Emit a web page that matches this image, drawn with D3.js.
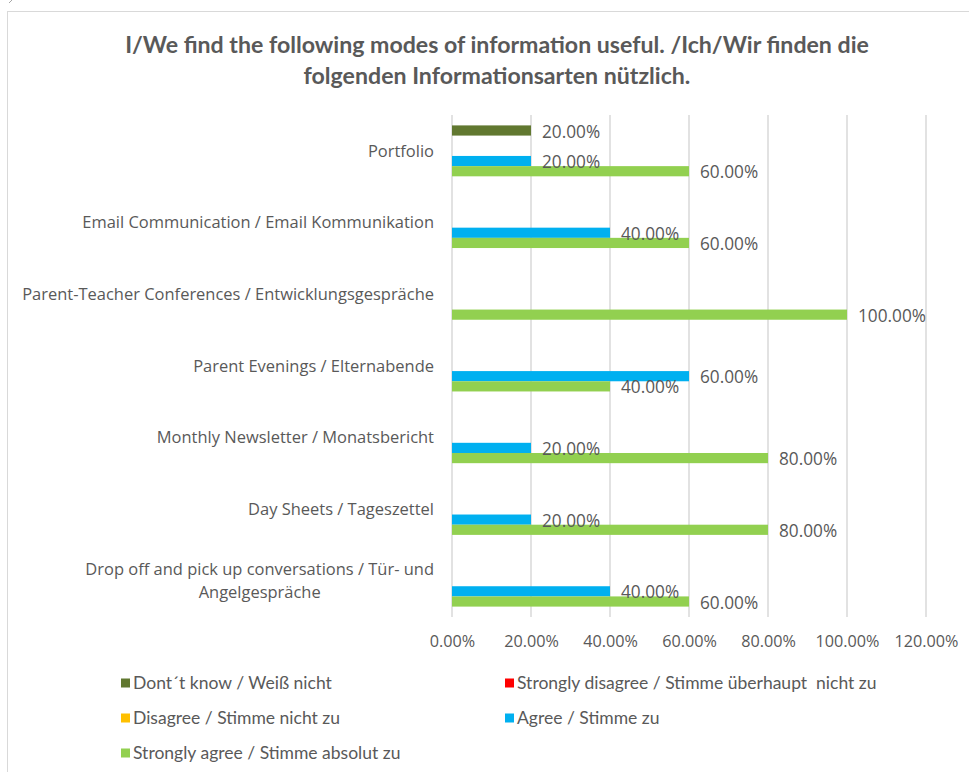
<html>
<head>
<script src="https://d3js.org/d3.v7.min.js"></script>
<style>
  body { margin: 0; background: #fff; }
  text { white-space: pre; }
</style>
</head>
<body>
<div id="chart"></div>
<script>
// categories, top to bottom
const categories = [
  "Portfolio",
  "Email Communication / Email Kommunikation",
  "Parent-Teacher Conferences / Entwicklungsgespräche",
  "Parent Evenings / Elternabende",
  "Monthly Newsletter / Monatsbericht",
  "Day Sheets / Tageszettel",
  "Drop off and pick up conversations / Tür- und Angelgespräche"
];

const seriesNames = [
  "Dont´t know / Weiß nicht",
  "Strongly disagree / Stimme überhaupt  nicht zu",
  "Disagree / Stimme nicht zu",
  "Agree / Stimme zu",
  "Strongly agree / Stimme absolut zu"
];
const seriesColors = ["#617830", "#FF0000", "#FFC000", "#00B0F0", "#92D050"];

const dontKnow          = [0.2, 0, 0, 0, 0, 0, 0];
const stronglyDisagree  = [0, 0, 0, 0, 0, 0, 0];
const disagree          = [0, 0, 0, 0, 0, 0, 0];
const agree             = [0.2, 0.4, 0, 0.6, 0.2, 0.2, 0.4];
const stronglyAgree     = [0.6, 0.6, 1.0, 0.4, 0.8, 0.8, 0.6];

const xTicks = [0, 0.2, 0.4, 0.6, 0.8, 1.0, 1.2];

const seriesValues = [dontKnow, stronglyDisagree, disagree, agree, stronglyAgree];

const w = 969, h = 772;
const plotLeft = 452, plotRight = 926, plotTop = 115, plotBottom = 617;
const grey = "#595959";
const titleFont = "Lato, 'Liberation Sans', sans-serif";
const bodyFont = "'Open Sans', 'Noto Sans', sans-serif";

const svg = d3.select("#chart").append("svg")
  .attr("width", w)
  .attr("height", h);

// pick a font size so a sample string gets a given width
function fitSize(sample, target, family, weight) {
  const t = svg.append("text")
    .style("font-family", family)
    .style("font-weight", weight)
    .style("font-size", "100px")
    .text(sample);
  const len = t.node().getComputedTextLength();
  t.remove();
  return 100 * target / len;
}

const titleSize = fitSize("I/We find the following modes of information useful. /Ich/Wir finden die", 744, titleFont, "bold");
const catSize = fitSize(categories[2], 412, bodyFont, "normal");
const valSize = fitSize("100.00%", 68, bodyFont, "normal");
const tickSize = fitSize("120.00%", 64, bodyFont, "normal");
const legendSize = fitSize(seriesNames[1], 360, titleFont, "normal");

// chart frame
svg.append("rect")
  .attr("x", 7.5).attr("y", 11.5)
  .attr("width", 1000).attr("height", 800)
  .attr("fill", "none")
  .attr("stroke", "#d9d9d9");
svg.append("line")
  .attr("x1", 9).attr("y1", 3).attr("x2", 12).attr("y2", 0)
  .attr("stroke", "#a6a6a6");

// title
const titleLines = ["I/We find the following modes of information useful. /Ich/Wir finden die",
                    "folgenden Informationsarten nützlich."];
svg.append("g").selectAll("text")
  .data(titleLines)
  .enter()
  .append("text")
  .attr("x", 497)
  .attr("y", (d, i) => 45 + i * 31)
  .attr("dy", "0.35em")
  .attr("text-anchor", "middle")
  .style("font-family", titleFont)
  .style("font-weight", "bold")
  .style("font-size", titleSize + "px")
  .style("fill", grey)
  .text(d => d);

const xScale = d3.scaleLinear().domain([0, 1.2]).range([plotLeft, plotRight]);
const yScale = d3.scaleBand().domain(categories).range([plotTop, plotBottom])
  .paddingInner(0.29).paddingOuter(0.145);
const ySub = d3.scaleBand().domain(d3.range(seriesNames.length)).range([0, yScale.bandwidth()]);

// gridlines
svg.append("g").selectAll("line")
  .data(xTicks)
  .enter()
  .append("line")
  .attr("x1", d => xScale(d)).attr("x2", d => xScale(d))
  .attr("y1", plotTop).attr("y2", plotBottom)
  .attr("stroke", "#d9d9d9")
  .attr("stroke-width", 1.5);

// x axis labels
const xAxis = d3.axisBottom(xScale).tickValues(xTicks).tickFormat(d3.format(".2%")).tickSize(0).tickPadding(0);
const gx = svg.append("g")
  .attr("transform", "translate(0," + 641 + ")")
  .call(xAxis);
gx.select(".domain").remove();
gx.selectAll("text")
  .attr("y", 0)
  .attr("dy", "0.35em")
  .style("font-family", bodyFont)
  .style("font-size", tickSize + "px")
  .style("fill", grey);

// bars
const rows = [];
seriesValues.forEach((vals, s) => {
  vals.forEach((v, c) => rows.push({ s: s, cat: categories[c], v: v }));
});
const shown = rows.filter(d => d.v > 0);

svg.append("g").selectAll("rect")
  .data(shown)
  .enter()
  .append("rect")
  .attr("x", xScale(0))
  .attr("y", d => yScale(d.cat) + ySub(d.s))
  .attr("width", d => xScale(d.v) - xScale(0))
  .attr("height", ySub.bandwidth())
  .attr("fill", d => seriesColors[d.s]);

// value labels
svg.append("g").selectAll("text")
  .data(shown)
  .enter()
  .append("text")
  .attr("x", d => xScale(d.v) + 11)
  .attr("y", d => yScale(d.cat) + ySub(d.s) + ySub.bandwidth() / 2 + 1)
  .attr("dy", "0.35em")
  .style("font-family", bodyFont)
  .style("font-size", valSize + "px")
  .style("fill", grey)
  .text(d => d3.format(".2%")(d.v));

// category labels, wrapped when too long
const catG = svg.append("g");
categories.forEach(cat => {
  const cy = yScale(cat) + yScale.bandwidth() / 2;
  const t = catG.append("text")
    .style("font-family", bodyFont)
    .style("font-size", catSize + "px")
    .style("fill", grey);
  const words = cat.split(" ");
  const lines = [];
  let line = [];
  words.forEach(word => {
    line.push(word);
    t.text(line.join(" "));
    if (t.node().getComputedTextLength() > 420 && line.length > 1) {
      line.pop();
      lines.push(line.join(" "));
      line = [word];
    }
  });
  lines.push(line.join(" "));
  t.text(null);
  if (lines.length === 1) {
    t.attr("x", 434).attr("y", cy).attr("dy", "0.35em")
      .attr("text-anchor", "end").text(lines[0]);
  } else {
    const lh = 23;
    const widths = lines.map(l => { t.text(l); return t.node().getComputedTextLength(); });
    t.text(null);
    const mid = 434 - d3.max(widths) / 2;
    t.attr("text-anchor", "middle");
    lines.forEach((l, i) => {
      t.append("tspan")
        .attr("x", mid)
        .attr("y", cy - lh * (lines.length - 1) / 2 + i * lh)
        .attr("dy", "0.35em")
        .text(l);
    });
  }
});

// legend
const legendX = [121, 505];
const legendY = [683, 718, 753];
const leg = svg.append("g").selectAll("g")
  .data(seriesNames)
  .enter()
  .append("g")
  .attr("transform", (d, i) => "translate(" + legendX[i % 2] + "," + legendY[Math.floor(i / 2)] + ")");
leg.append("rect")
  .attr("x", 0).attr("y", -4.5)
  .attr("width", 9).attr("height", 9)
  .attr("fill", (d, i) => seriesColors[i]);
leg.append("text")
  .attr("x", 12)
  .attr("y", 0)
  .attr("dy", "0.35em")
  .style("font-family", titleFont)
  .style("font-size", legendSize + "px")
  .style("fill", grey)
  .text(d => d);
</script>
</body>
</html>
